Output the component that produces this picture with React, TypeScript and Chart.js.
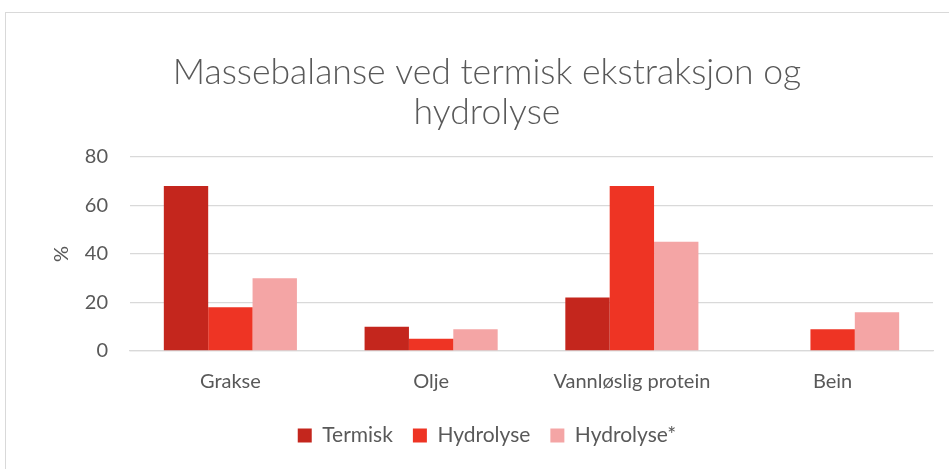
import React, { useEffect, useRef } from "react";
import { Chart, registerables } from "chart.js";

Chart.register(...registerables);

const categories = ["Grakse", "Olje", "Vannløslig protein", "Bein"];
const seriesNames = ["Termisk", "Hydrolyse", "Hydrolyse*"];
const termisk = [68, 10, 22, null];
const hydrolyse = [18, 5, 68, 9];
const hydrolyseStar = [30, 9, 45, 16];
const colors = ["#C4261D", "#EE3424", "#F4A5A5"];
const titleLines = ["Massebalanse ved termisk ekstraksjon og", "hydrolyse"];

export default function App() {
  const ref = useRef<HTMLCanvasElement | null>(null);
  useEffect(() => {
    if (!ref.current) return;
    const values = [termisk, hydrolyse, hydrolyseStar];
    const chart = new Chart(ref.current, {
      type: "bar",
      data: {
        labels: categories,
        datasets: seriesNames.map((n, i) => ({
          label: n,
          data: values[i],
          backgroundColor: colors[i],
          borderWidth: 0,
          categoryPercentage: 0.663,
          barPercentage: 1,
        })),
      },
      options: {
        animation: false,
        responsive: false,
        maintainAspectRatio: false,
        layout: { padding: { left: 41, right: 16, top: 53, bottom: 13 } },
        plugins: {
          title: {
            display: true,
            text: titleLines,
            color: "#595959",
            font: { family: "Lato", size: 35.6, weight: "300" as any, lineHeight: 1.12 },
            padding: { top: 0, bottom: 24 },
          },
          legend: {
            position: "bottom",
            labels: {
              color: "#595959",
              font: { family: "Lato", size: 21 },
              boxWidth: 14,
              boxHeight: 14,
              padding: 20,
            },
          },
          tooltip: { enabled: false },
        },
        scales: {
          x: {
            grid: { display: false },
            border: { color: "#D9D9D9", width: 1.3 },
            ticks: { color: "#595959", font: { family: "Lato", size: 20 }, padding: 11 },
          },
          y: {
            min: 0,
            max: 80,
            afterFit: (axis: any) => {
              axis.width = 89;
            },
            ticks: { stepSize: 20, color: "#595959", font: { family: "Lato", size: 20 }, padding: 22 },
            grid: { color: "#D9D9D9", lineWidth: 1.3, drawTicks: false },
            border: { display: false },
            title: {
              display: true,
              text: "%",
              color: "#595959",
              font: { family: "Lato", size: 20 },
              padding: { top: 9, bottom: 0 },
            },
          },
        },
      },
    });
    return () => chart.destroy();
  }, []);
  return (
    <div style={{ position: "fixed", left: 0, top: 0, width: 949, height: 469, background: "#fff" }}>
      <div
        style={{
          position: "absolute",
          left: 5,
          top: 12,
          width: 1000,
          height: 500,
          border: "1px solid #D9D9D9",
          boxSizing: "border-box",
        }}
      />
      <canvas ref={ref} width={949} height={469} style={{ position: "absolute", left: 0, top: 0 }} />
    </div>
  );
}
